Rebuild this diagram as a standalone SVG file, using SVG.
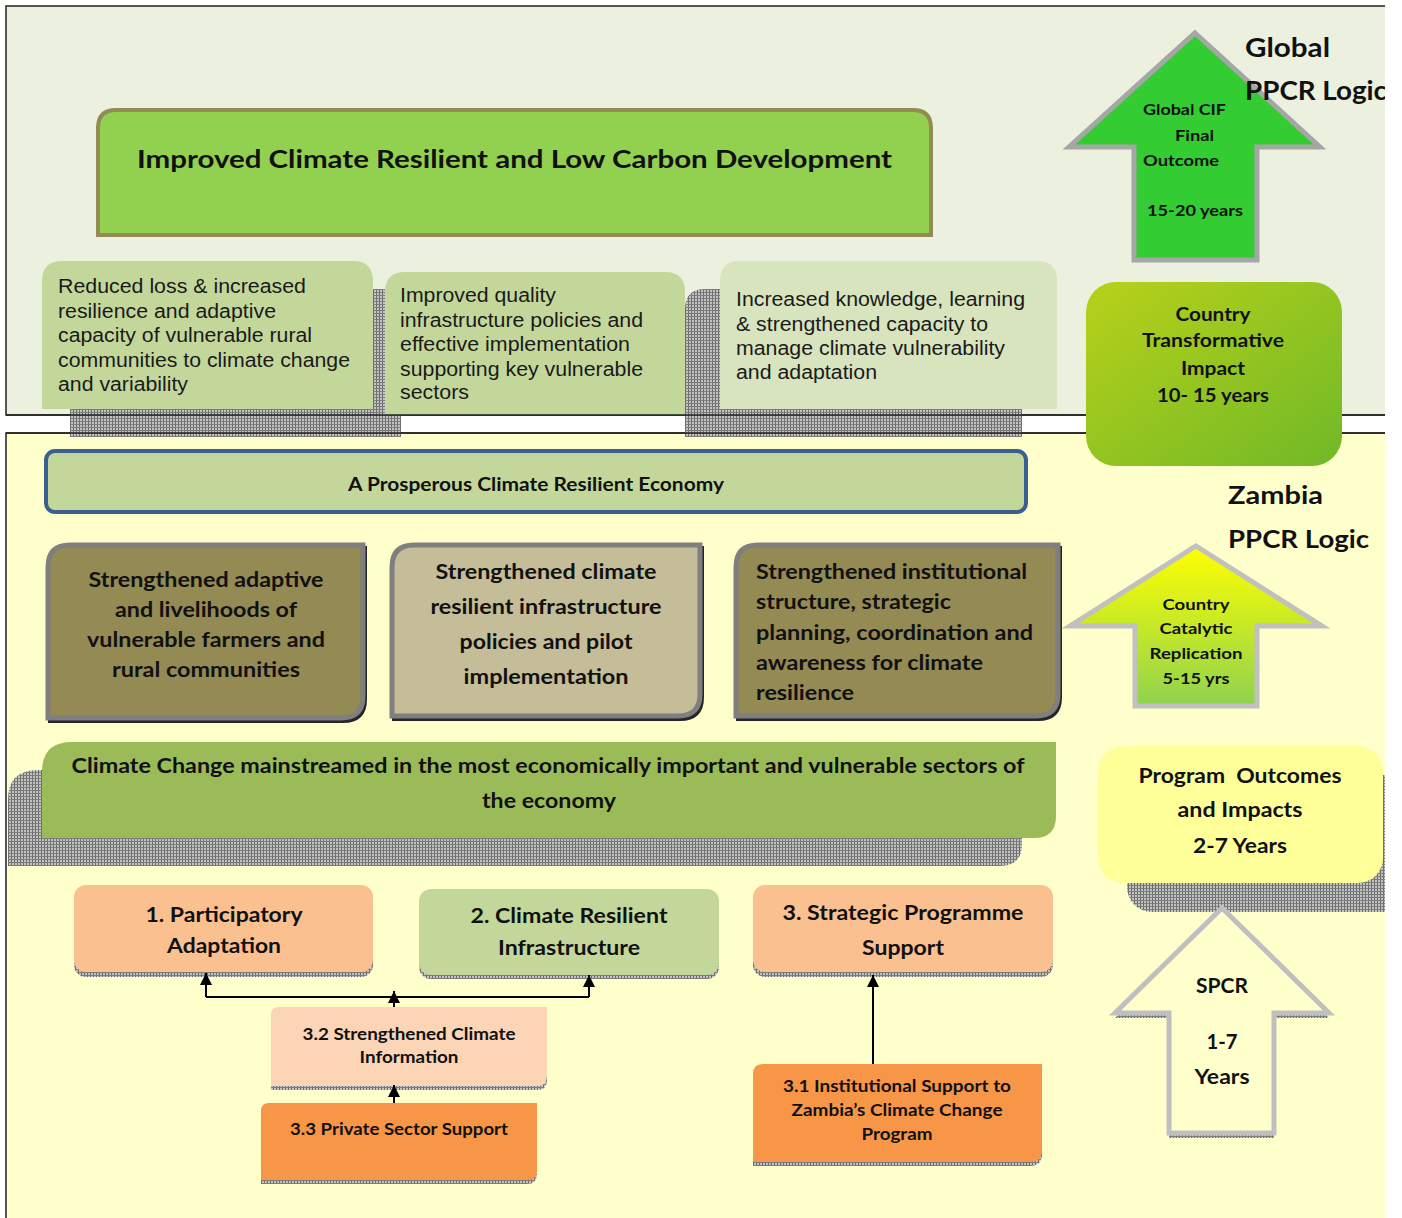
<svg xmlns="http://www.w3.org/2000/svg" width="1402" height="1218" viewBox="0 0 1402 1218">
  <style>
    .b { font-family: Lato, "Open Sans", "DejaVu Sans", sans-serif; font-weight: 700; fill: #111; }
    .r { font-family: "Liberation Sans", Arial, sans-serif; font-size: 20px; fill: #1a1a1a; }
    .c { text-anchor: middle; }
    .conn { fill: none; stroke: #000; stroke-width: 2; }
    .hatch { fill: url(#hatch); }
  </style>
  <defs>
    <pattern id="hatch" width="3" height="3" patternUnits="userSpaceOnUse">
      <rect width="3" height="3" fill="#c4c4c4"/>
      <rect width="1" height="3" fill="#6a6a6a"/>
      <rect width="3" height="1" fill="#7c7c7c"/>
    </pattern>
    <linearGradient id="gradTransform" x1="0" y1="0" x2="1" y2="1">
      <stop offset="0" stop-color="#b8d11a"/>
      <stop offset="1" stop-color="#70b927"/>
    </linearGradient>
    <linearGradient id="gradCatalytic" x1="0" y1="0" x2="0" y2="1">
      <stop offset="0" stop-color="#ffff00"/>
      <stop offset="1" stop-color="#8fd24f"/>
    </linearGradient>
    <marker id="arrow" viewBox="0 0 10 10" refX="10" refY="5" markerWidth="12" markerHeight="13" markerUnits="userSpaceOnUse" orient="auto">
      <path d="M0,0 L10,5 L0,10 Z" fill="#000"/>
    </marker>
    <clipPath id="page">
      <rect x="0" y="0" width="1385" height="1218"/>
    </clipPath>
  </defs>

  <rect width="1402" height="1218" fill="#ffffff"/>

  <g clip-path="url(#page)">
    <!-- panels -->
    <g id="panel-global">
      <rect x="6" y="6" width="1379" height="409" fill="#ebf1de"/>
      <path d="M1385,6 H6 V415 H1385" fill="none" stroke="#222" stroke-width="1.5"/>
    </g>
    <g id="panel-zambia">
      <rect x="6" y="433" width="1379" height="785" fill="#ffffcc"/>
      <path d="M1385,433 H6 V1218" fill="none" stroke="#222" stroke-width="1.5"/>
    </g>

    <!-- top level outcome -->
    <g id="node-improved">
      <path d="M98,235 V128 Q98,110 116,110 H913 Q931,110 931,128 V235 Z" fill="#92d050" stroke="#948a54" stroke-width="4"/>
      <text class="b" x="137" y="168" font-size="25" textLength="755" lengthAdjust="spacingAndGlyphs">Improved Climate Resilient and Low Carbon Development</text>
    </g>

    <!-- global outcomes -->
    <g id="node-reduced-loss">
      <path class="hatch" transform="translate(28,28)" d="M42,409 V281 Q42,261 62,261 H353 Q373,261 373,281 V409 Z"/>
      <path d="M42,409 V281 Q42,261 62,261 H353 Q373,261 373,281 V409 Z" fill="#c4d79b"/>
      <text class="r" x="58" y="293" textLength="248" lengthAdjust="spacingAndGlyphs">Reduced loss &amp; increased</text>
      <text class="r" x="58" y="318" textLength="218" lengthAdjust="spacingAndGlyphs">resilience and adaptive</text>
      <text class="r" x="58" y="342" textLength="254" lengthAdjust="spacingAndGlyphs">capacity of vulnerable rural</text>
      <text class="r" x="58" y="367" textLength="292" lengthAdjust="spacingAndGlyphs">communities to climate change</text>
      <text class="r" x="58" y="391" textLength="130" lengthAdjust="spacingAndGlyphs">and variability</text>
    </g>
    <g id="node-knowledge">
      <path class="hatch" transform="translate(-35,28)" d="M720,409 V281 Q720,261 740,261 H1037 Q1057,261 1057,281 V409 Z"/>
      <path d="M720,409 V281 Q720,261 740,261 H1037 Q1057,261 1057,281 V409 Z" fill="#d7e4bd"/>
      <text class="r" x="736" y="306" textLength="289" lengthAdjust="spacingAndGlyphs">Increased knowledge, learning</text>
      <text class="r" x="736" y="331" textLength="252" lengthAdjust="spacingAndGlyphs">&amp; strengthened capacity to</text>
      <text class="r" x="736" y="355" textLength="269" lengthAdjust="spacingAndGlyphs">manage climate vulnerability</text>
      <text class="r" x="736" y="379" textLength="141" lengthAdjust="spacingAndGlyphs">and adaptation</text>
    </g>
    <g id="node-infra-quality">
      <path d="M385,415 V292 Q385,272 405,272 H665 Q685,272 685,292 V415 Z" fill="#c4d79b"/>
      <text class="r" x="400" y="302" textLength="156" lengthAdjust="spacingAndGlyphs">Improved quality</text>
      <text class="r" x="400" y="327" textLength="243" lengthAdjust="spacingAndGlyphs">infrastructure policies and</text>
      <text class="r" x="400" y="351" textLength="230" lengthAdjust="spacingAndGlyphs">effective implementation</text>
      <text class="r" x="400" y="376" textLength="243" lengthAdjust="spacingAndGlyphs">supporting key vulnerable</text>
      <text class="r" x="400" y="399" textLength="69" lengthAdjust="spacingAndGlyphs">sectors</text>
    </g>
    <!-- panel divider stays visible over the outcome shadows -->
    <path d="M6,415 H1385 M6,433 H1385" stroke="#222" stroke-width="1.5" fill="none"/>

    <!-- global logic arrow -->
    <g id="node-global-cif">
      <polygon points="1195,33 1320,147 1257,147 1257,260 1134,260 1134,147 1069,147" fill="#33cc33" stroke="#a6a6a6" stroke-width="5"/>
      <text class="b" x="1143" y="115" font-size="16" textLength="83" lengthAdjust="spacingAndGlyphs">Global CIF</text>
      <text class="b" x="1175" y="141" font-size="16" textLength="39" lengthAdjust="spacingAndGlyphs">Final</text>
      <text class="b" x="1143" y="166" font-size="16" textLength="76" lengthAdjust="spacingAndGlyphs">Outcome</text>
      <text class="b" x="1147" y="216" font-size="16" textLength="96" lengthAdjust="spacingAndGlyphs">15-20 years</text>
    </g>
    <g id="label-global">
      <text class="b" x="1245" y="57" font-size="26" textLength="85" lengthAdjust="spacingAndGlyphs">Global</text>
      <text class="b" x="1245" y="100" font-size="26" textLength="142" lengthAdjust="spacingAndGlyphs">PPCR Logic</text>
    </g>

    <g id="node-transformative">
      <rect x="1086" y="282" width="256" height="184" rx="30" fill="url(#gradTransform)"/>
      <text class="b c" x="1213" y="321" font-size="19" textLength="75" lengthAdjust="spacingAndGlyphs">Country</text>
      <text class="b c" x="1213" y="347" font-size="19" textLength="142" lengthAdjust="spacingAndGlyphs">Transformative</text>
      <text class="b c" x="1213" y="375" font-size="19" textLength="64" lengthAdjust="spacingAndGlyphs">Impact</text>
      <text class="b c" x="1213" y="402" font-size="19" textLength="112" lengthAdjust="spacingAndGlyphs" xml:space="preserve">10- 15 years</text>
    </g>

    <!-- zambia level -->
    <g id="node-prosperous">
      <rect x="46" y="451" width="980" height="61" rx="9" fill="#c4d79b" stroke="#3b5f8f" stroke-width="4"/>
      <text class="b c" x="536" y="491" font-size="18" textLength="376" lengthAdjust="spacingAndGlyphs">A Prosperous Climate Resilient Economy</text>
    </g>

    <g id="label-zambia">
      <text class="b" x="1228" y="504" font-size="25" textLength="95" lengthAdjust="spacingAndGlyphs">Zambia</text>
      <text class="b" x="1228" y="548" font-size="25" textLength="141" lengthAdjust="spacingAndGlyphs">PPCR Logic</text>
    </g>

    <g id="node-adaptive">
      <path transform="translate(2,3)" d="M48,718 V567 Q48,545 70,545 H363 V696 Q363,718 341,718 Z" fill="#262626" stroke="#262626" stroke-width="4"/>
      <path d="M48,718 V567 Q48,545 70,545 H363 V696 Q363,718 341,718 Z" fill="#948a54" stroke="#7f7f7f" stroke-width="5"/>
      <text class="b c" x="206" y="587" font-size="21" textLength="235" lengthAdjust="spacingAndGlyphs">Strengthened adaptive</text>
      <text class="b c" x="206" y="617" font-size="21" textLength="182" lengthAdjust="spacingAndGlyphs">and livelihoods of</text>
      <text class="b c" x="206" y="647" font-size="21" textLength="238" lengthAdjust="spacingAndGlyphs">vulnerable farmers and</text>
      <text class="b c" x="206" y="677" font-size="21" textLength="188" lengthAdjust="spacingAndGlyphs">rural communities</text>
    </g>
    <g id="node-infrastructure">
      <path transform="translate(2,3)" d="M392,716 V567 Q392,545 414,545 H700 V694 Q700,716 678,716 Z" fill="#262626" stroke="#262626" stroke-width="4"/>
      <path d="M392,716 V567 Q392,545 414,545 H700 V694 Q700,716 678,716 Z" fill="#c4bd97" stroke="#7f7f7f" stroke-width="5"/>
      <text class="b c" x="546" y="579" font-size="21" textLength="221" lengthAdjust="spacingAndGlyphs">Strengthened climate</text>
      <text class="b c" x="546" y="614" font-size="21" textLength="231" lengthAdjust="spacingAndGlyphs">resilient infrastructure</text>
      <text class="b c" x="546" y="649" font-size="21" textLength="173" lengthAdjust="spacingAndGlyphs">policies and pilot</text>
      <text class="b c" x="546" y="684" font-size="21" textLength="165" lengthAdjust="spacingAndGlyphs">implementation</text>
    </g>
    <g id="node-institutional">
      <path transform="translate(2,3)" d="M736,716 V567 Q736,545 758,545 H1058 V694 Q1058,716 1036,716 Z" fill="#262626" stroke="#262626" stroke-width="4"/>
      <path d="M736,716 V567 Q736,545 758,545 H1058 V694 Q1058,716 1036,716 Z" fill="#948a54" stroke="#7f7f7f" stroke-width="5"/>
      <text class="b" x="756" y="579" font-size="21" textLength="271" lengthAdjust="spacingAndGlyphs">Strengthened institutional</text>
      <text class="b" x="756" y="609" font-size="21" textLength="195" lengthAdjust="spacingAndGlyphs">structure, strategic</text>
      <text class="b" x="756" y="640" font-size="21" textLength="277" lengthAdjust="spacingAndGlyphs">planning, coordination and</text>
      <text class="b" x="756" y="670" font-size="21" textLength="227" lengthAdjust="spacingAndGlyphs">awareness for climate</text>
      <text class="b" x="756" y="700" font-size="21" textLength="98" lengthAdjust="spacingAndGlyphs">resilience</text>
    </g>

    <g id="node-catalytic">
      <polygon points="1196,546 1322,626 1257,626 1257,706 1135,706 1135,626 1070,626" fill="url(#gradCatalytic)" stroke="#c0c0c0" stroke-width="5"/>
      <text class="b c" x="1196" y="610" font-size="16" textLength="67" lengthAdjust="spacingAndGlyphs">Country</text>
      <text class="b c" x="1196" y="634" font-size="16" textLength="73" lengthAdjust="spacingAndGlyphs">Catalytic</text>
      <text class="b c" x="1196" y="659" font-size="16" textLength="93" lengthAdjust="spacingAndGlyphs">Replication</text>
      <text class="b c" x="1196" y="684" font-size="16" textLength="67" lengthAdjust="spacingAndGlyphs">5-15 yrs</text>
    </g>

    <g id="node-mainstreamed">
      <path class="hatch" transform="translate(-34,28)" d="M42,838 V772 Q42,742 72,742 H1056 V816 Q1056,838 1034,838 Z"/>
      <path d="M42,838 V772 Q42,742 72,742 H1056 V816 Q1056,838 1034,838 Z" fill="#9bbb59"/>
      <text class="b c" x="548" y="773" font-size="20" textLength="953" lengthAdjust="spacingAndGlyphs">Climate Change mainstreamed in the most economically important and vulnerable sectors of</text>
      <text class="b c" x="549" y="808" font-size="20" textLength="134" lengthAdjust="spacingAndGlyphs">the economy</text>
    </g>

    <g id="node-program-outcomes">
      <rect class="hatch" x="1127" y="775" width="285" height="137" rx="25"/>
      <rect x="1098" y="746" width="285" height="137" rx="25" fill="#ffff99"/>
      <text class="b c" x="1240" y="783" font-size="20" textLength="203" lengthAdjust="spacingAndGlyphs" xml:space="preserve">Program  Outcomes</text>
      <text class="b c" x="1240" y="817" font-size="20" textLength="125" lengthAdjust="spacingAndGlyphs">and Impacts</text>
      <text class="b c" x="1240" y="853" font-size="20" textLength="94" lengthAdjust="spacingAndGlyphs">2-7 Years</text>
    </g>

    <g id="node-spcr">
      <polygon class="hatch" transform="translate(0,5)" points="1222,908 1329,1013 1274,1013 1274,1133 1169,1133 1169,1013 1115,1013"/>
      <polygon points="1222,908 1329,1013 1274,1013 1274,1133 1169,1133 1169,1013 1115,1013" fill="#ffffcc" stroke="#bfbfbf" stroke-width="5"/>
      <text class="b c" x="1222" y="993" font-size="20" textLength="52" lengthAdjust="spacingAndGlyphs">SPCR</text>
      <text class="b c" x="1222" y="1049" font-size="20" textLength="31" lengthAdjust="spacingAndGlyphs">1-7</text>
      <text class="b c" x="1222" y="1084" font-size="20" textLength="55" lengthAdjust="spacingAndGlyphs">Years</text>
    </g>

    <!-- programme components -->
    <g id="node-participatory">
      <rect class="hatch" x="74" y="890" width="299" height="87" rx="12"/>
      <rect x="74" y="885" width="299" height="87" rx="12" fill="#fac090"/>
      <text class="b c" x="224" y="922" font-size="21" textLength="157" lengthAdjust="spacingAndGlyphs">1. Participatory</text>
      <text class="b c" x="224" y="953" font-size="21" textLength="114" lengthAdjust="spacingAndGlyphs">Adaptation</text>
    </g>
    <g id="node-resilient-infra">
      <rect class="hatch" x="419" y="893" width="300" height="86" rx="12"/>
      <rect x="419" y="889" width="300" height="86" rx="12" fill="#c4d79b"/>
      <text class="b c" x="569" y="923" font-size="21" textLength="197" lengthAdjust="spacingAndGlyphs">2. Climate Resilient</text>
      <text class="b c" x="569" y="955" font-size="21" textLength="142" lengthAdjust="spacingAndGlyphs">Infrastructure</text>
    </g>
    <g id="node-strategic">
      <rect class="hatch" x="753" y="890" width="300" height="87" rx="12"/>
      <rect x="753" y="885" width="300" height="87" rx="12" fill="#fac090"/>
      <text class="b c" x="903" y="920" font-size="21" textLength="241" lengthAdjust="spacingAndGlyphs">3. Strategic Programme</text>
      <text class="b c" x="903" y="955" font-size="21" textLength="82" lengthAdjust="spacingAndGlyphs">Support</text>
    </g>
    <g id="node-climate-info">
      <path class="hatch" transform="translate(0,4)" d="M271,1086 V1015 Q271,1007 279,1007 H547 V1076 Q547,1086 537,1086 Z"/>
      <path d="M271,1086 V1015 Q271,1007 279,1007 H547 V1076 Q547,1086 537,1086 Z" fill="#fbd5b5"/>
      <text class="b c" x="409" y="1040" font-size="17" textLength="213" lengthAdjust="spacingAndGlyphs">3.2 Strengthened Climate</text>
      <text class="b c" x="409" y="1063" font-size="17" textLength="99" lengthAdjust="spacingAndGlyphs">Information</text>
    </g>
    <g id="node-private-sector">
      <path class="hatch" transform="translate(0,4)" d="M261,1180 V1111 Q261,1103 269,1103 H537 V1170 Q537,1180 527,1180 Z"/>
      <path d="M261,1180 V1111 Q261,1103 269,1103 H537 V1170 Q537,1180 527,1180 Z" fill="#f79646"/>
      <text class="b c" x="399" y="1135" font-size="17" textLength="218" lengthAdjust="spacingAndGlyphs">3.3 Private Sector Support</text>
    </g>
    <g id="node-institutional-support">
      <path class="hatch" transform="translate(0,4)" d="M753,1162 V1074 Q753,1064 763,1064 H1042 V1150 Q1042,1162 1030,1162 Z"/>
      <path d="M753,1162 V1074 Q753,1064 763,1064 H1042 V1150 Q1042,1162 1030,1162 Z" fill="#f79646"/>
      <text class="b c" x="897" y="1092" font-size="17" textLength="228" lengthAdjust="spacingAndGlyphs">3.1 Institutional Support to</text>
      <text class="b c" x="897" y="1116" font-size="17" textLength="211" lengthAdjust="spacingAndGlyphs">Zambia’s Climate Change</text>
      <text class="b c" x="897" y="1140" font-size="17" textLength="71" lengthAdjust="spacingAndGlyphs">Program</text>
    </g>

    <!-- connectors -->
    <g id="connectors">
      <path class="conn" d="M206,997 H589"/>
      <path class="conn" d="M206,997 V973" marker-end="url(#arrow)"/>
      <path class="conn" d="M589,997 V975" marker-end="url(#arrow)"/>
      <path class="conn" d="M394,1007 V991" marker-end="url(#arrow)"/>
      <path class="conn" d="M394,1103 V1085" marker-end="url(#arrow)"/>
      <path class="conn" d="M873,1064 V975" marker-end="url(#arrow)"/>
    </g>
  </g>
</svg>
